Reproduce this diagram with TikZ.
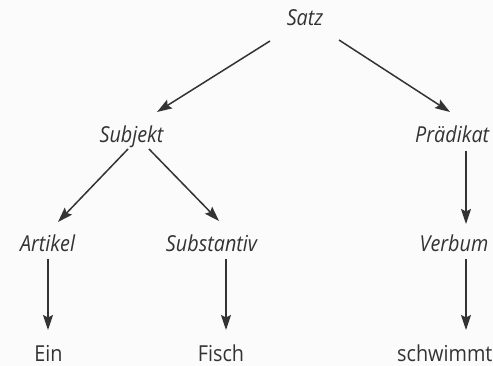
\documentclass[tikz,border=0pt]{standalone}
\usepackage{fontspec}
\setmainfont{Open Sans}[FakeStretch=0.9]
\usetikzlibrary{arrows.meta}
\definecolor{ink}{HTML}{333333}
\definecolor{paper}{HTML}{FBFBFB}
\tikzset{
  cat/.style={inner sep=0pt, text=ink, font=\fontsize{22}{26}\selectfont\itshape},
  word/.style={inner sep=0pt, text=ink, font=\fontsize{22}{26}\selectfont},
  arr/.style={draw=ink, line width=1.5pt,
    -{Stealth[length=15pt,width=10pt,inset=2.5pt]}}
}
\begin{document}
\begin{tikzpicture}[x=1pt,y=-1pt]
  \fill[paper] (0,0) rectangle (493,366);
  \useasboundingbox (0,0) rectangle (493,366);

  % categories
  \node[cat, anchor=base] (satz) at (305,26) {Satz};
  \node[cat, anchor=base] (subj) at (131.5,143) {Subjekt};
  \node[cat, anchor=base west] (prad) at (415,143) {Prädikat};
  \node[cat, anchor=base] (art) at (47.5,252) {Artikel};
  \node[cat, anchor=base] (subst) at (211.5,252) {Substantiv};
  \node[cat, anchor=base] (verb) at (454,252) {Verbum};

  % words
  \node[word, anchor=base] (ein) at (48.5,361) {Ein};
  \node[word, anchor=base] (fisch) at (221,361) {Fisch};
  \node[word, anchor=base west] (schw) at (397,361) {schwimmt};

  % branches
  \draw[arr] ([shift={(-35,15)}]satz.base) -- ([shift={(25.5,-31)}]subj.base);
  \draw[arr] ([shift={(34,14)}]satz.base) -- ([shift={(35,-31)}]prad.base west);
  \draw[arr] ([shift={(-3.5,6)}]subj.base) -- ([shift={(10.5,-30)}]art.base);
  \draw[arr] ([shift={(17.5,6)}]subj.base) -- ([shift={(7.5,-31)}]subst.base);
  \draw[arr] ([shift={(51,8)}]prad.base west) -- ([shift={(12,-28)}]verb.base);
  \draw[arr] ([shift={(0.5,7)}]art.base) -- ([shift={(-0.5,-31)}]ein.base);
  \draw[arr] ([shift={(14.5,7)}]subst.base) -- ([shift={(5,-31)}]fisch.base);
  \draw[arr] ([shift={(12,7)}]verb.base) -- ([shift={(69,-31)}]schw.base west);
\end{tikzpicture}
\end{document}
